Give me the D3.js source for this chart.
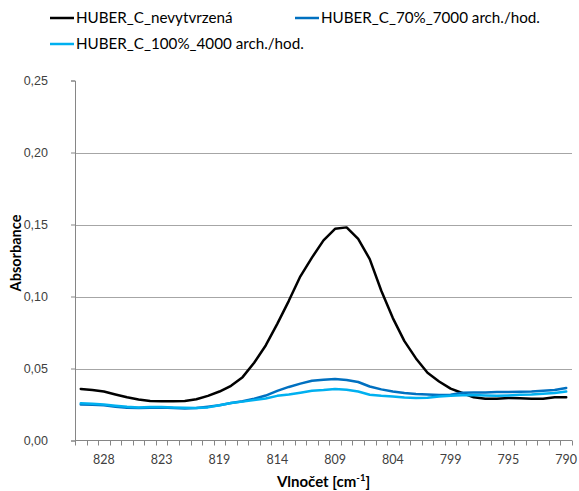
<!DOCTYPE html>
<html>
<head>
<meta charset="utf-8">
<script src="https://cdn.jsdelivr.net/npm/d3@7"></script>
<style>
  html, body { margin: 0; padding: 0; background: #fff; }
  svg { display: block; font-family: Lato, "Open Sans", "Liberation Sans", sans-serif; }
</style>
</head>
<body>
<svg id="chart" width="579" height="491"></svg>
<script>
// Wavenumbers (cm-1) of the measured points, descending
const wavenumbers = [
  830.21, 829.25, 828.28, 827.32, 826.35, 825.39, 824.42, 823.46, 822.50, 821.53,
  820.57, 819.60, 818.64, 817.67, 816.71, 815.75, 814.78, 813.82, 812.85, 811.89,
  810.92, 809.96, 809.00, 808.03, 807.07, 806.10, 805.14, 804.17, 803.21, 802.25,
  801.28, 800.32, 799.35, 798.39, 797.42, 796.46, 795.49, 794.53, 793.57, 792.60,
  791.64, 790.67, 789.71
];

// Absorbance – uncured sample
const uncured = [
  0.0358, 0.0350, 0.0340, 0.0320, 0.0300, 0.0285, 0.0275, 0.0272, 0.0272, 0.0275,
  0.0286, 0.0310, 0.0340, 0.0380, 0.0440, 0.0540, 0.0660, 0.0810, 0.0970, 0.1140,
  0.1270, 0.1390, 0.1470, 0.1480, 0.1400, 0.1260, 0.1040, 0.0850, 0.0690, 0.0570,
  0.0470, 0.0410, 0.0360, 0.0330, 0.0300, 0.0290, 0.0290, 0.0295, 0.0293, 0.0290,
  0.0290, 0.0300, 0.0300
];

// Absorbance – 70 %, 7000 arch./hod.
const cured70 = [
  0.0250, 0.0248, 0.0245, 0.0235, 0.0228, 0.0225, 0.0228, 0.0230, 0.0225, 0.0222,
  0.0225, 0.0235, 0.0245, 0.0260, 0.0272, 0.0290, 0.0312, 0.0345, 0.0372, 0.0395,
  0.0415, 0.0422, 0.0427, 0.0420, 0.0406, 0.0375, 0.0355, 0.0340, 0.0330, 0.0323,
  0.0320, 0.0316, 0.0318, 0.0332, 0.0333, 0.0334, 0.0336, 0.0337, 0.0338, 0.0340,
  0.0345, 0.0350, 0.0365
];

// Absorbance – 100 %, 4000 arch./hod.
const cured100 = [
  0.0258, 0.0255, 0.0250, 0.0242, 0.0235, 0.0230, 0.0232, 0.0233, 0.0230, 0.0228,
  0.0225, 0.0230, 0.0245, 0.0260, 0.0270, 0.0282, 0.0292, 0.0310, 0.0320, 0.0332,
  0.0345, 0.0350, 0.0357, 0.0353, 0.0340, 0.0318, 0.0310, 0.0305, 0.0298, 0.0295,
  0.0297, 0.0305, 0.0310, 0.0315, 0.0316, 0.0313, 0.0310, 0.0313, 0.0317, 0.0320,
  0.0325, 0.0330, 0.0340
];

const seriesNames = [
  "HUBER_C_nevytvrzená",
  "HUBER_C_70%_7000 arch./hod.",
  "HUBER_C_100%_4000 arch./hod."
];
const seriesColors = ["#000000", "#0070C0", "#00B0F0"];
const yTicks = [0, 0.05, 0.10, 0.15, 0.20, 0.25];

const series = [uncured, cured70, cured100].map((vals, i) => ({
  name: seriesNames[i], color: seriesColors[i], values: vals
}));

const svg = d3.select("#chart");
const plot = { left: 75, right: 572, top: 80.5, bottom: 440.5 };

const x = d3.scaleBand()
  .domain(d3.range(wavenumbers.length))
  .range([plot.left, plot.right])
  .paddingInner(0).paddingOuter(0);

const y = d3.scaleLinear().domain([0, 0.25]).range([plot.bottom, plot.top]);

const fmt = v => d3.format(".2f")(v).replace(".", ",");

// horizontal gridlines
svg.append("g")
  .selectAll("line")
  .data(yTicks.filter(t => t > 0 && t < 0.25))
  .join("line")
  .attr("x1", plot.left).attr("x2", plot.right)
  .attr("y1", d => Math.round(y(d)) + 0.5).attr("y2", d => Math.round(y(d)) + 0.5)
  .attr("stroke", "#a6a6a6").attr("stroke-width", 1);

// y axis
const yAxis = svg.append("g")
  .attr("transform", `translate(${plot.left},0)`)
  .call(d3.axisLeft(y).tickValues(yTicks).tickFormat(fmt).tickSizeOuter(0).tickSize(4).tickPadding(23));
yAxis.select(".domain").attr("stroke", "#868686");
yAxis.selectAll(".tick line").attr("stroke", "#868686");
yAxis.selectAll("text").attr("font-size", 12.5).attr("fill", "#404040");

// x axis: tick marks at every category boundary
const xAxisG = svg.append("g").attr("transform", `translate(0,${plot.bottom})`);
xAxisG.append("line")
  .attr("x1", plot.left).attr("x2", plot.right)
  .attr("y1", 0).attr("y2", 0)
  .attr("stroke", "#868686");
const boundaries = d3.range(wavenumbers.length + 1).map(i =>
  i < wavenumbers.length ? x(i) : x(i - 1) + x.bandwidth());
xAxisG.selectAll("line.tk")
  .data(boundaries)
  .join("line").attr("class", "tk")
  .attr("x1", d => Math.round(d) + 0.5).attr("x2", d => Math.round(d) + 0.5)
  .attr("y1", 0).attr("y2", 5)
  .attr("stroke", "#868686");
xAxisG.selectAll("text")
  .data(d3.range(2, wavenumbers.length, 5))
  .join("text")
  .attr("x", i => x(i) + x.bandwidth() / 2)
  .attr("y", 23)
  .attr("text-anchor", "middle")
  .attr("font-size", 12.5)
  .attr("fill", "#404040")
  .text(i => Math.round(wavenumbers[i]));

// data lines
const line = d3.line()
  .x((d, i) => x(i) + x.bandwidth() / 2)
  .y(d => y(d));

svg.append("g")
  .selectAll("path")
  .data(series)
  .join("path")
  .attr("fill", "none")
  .attr("stroke", d => d.color)
  .attr("stroke-width", 2.5)
  .attr("stroke-linejoin", "round")
  .attr("stroke-linecap", "round")
  .attr("d", d => line(d.values));

// axis titles
svg.append("text")
  .attr("transform", `translate(21,253) rotate(-90)`)
  .attr("text-anchor", "middle")
  .attr("font-size", 14.5).attr("font-weight", "bold").attr("fill", "#000")
  .text("Absorbance");

const xt = svg.append("text")
  .attr("x", (plot.left + plot.right) / 2)
  .attr("y", 487)
  .attr("text-anchor", "middle")
  .attr("font-size", 15).attr("font-weight", "bold").attr("fill", "#000");
xt.append("tspan").text("Vlnočet [cm");
xt.append("tspan").attr("font-size", 9.5).attr("dy", -6).text("-1");
xt.append("tspan").attr("dy", 6).text("]");

// legend
const legendPos = [[50, 18], [295, 18], [50, 44]];
const lg = svg.append("g")
  .selectAll("g")
  .data(series)
  .join("g")
  .attr("transform", (d, i) => `translate(${legendPos[i][0]},${legendPos[i][1]})`);
lg.append("line")
  .attr("x1", 0).attr("x2", 24).attr("y1", 0).attr("y2", 0)
  .attr("stroke", d => d.color).attr("stroke-width", 2.5);
lg.append("text")
  .attr("x", 26).attr("y", 5)
  .attr("font-size", 15.2).attr("fill", "#000")
  .text(d => d.name);
</script>
</body>
</html>
